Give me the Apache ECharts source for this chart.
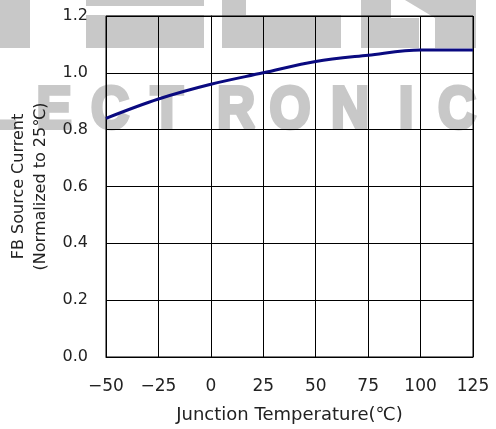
<!DOCTYPE html>
<html>
<head>
<meta charset="utf-8">
<script src="https://cdn.jsdelivr.net/npm/echarts@6/dist/echarts.min.js"></script>
<style>
  html, body { margin: 0; padding: 0; background: #fff; }
  #chart { width: 496px; height: 429px; }
</style>
</head>
<body>
<div id="chart"></div>
<script>
// Junction temperature (°C) and normalized FB source current
const temperatures = [-50, -25, 0, 25, 50, 75, 100, 125];
const currentNorm  = [0.84, 0.908, 0.96, 1.0, 1.04, 1.062, 1.08, 1.08];
const xTicks = [-50, -25, 0, 25, 50, 75, 100, 125];
const yTicks = [0.0, 0.2, 0.4, 0.6, 0.8, 1.0, 1.2];

const FONT = '"DejaVu Sans", "Noto Sans CJK KR", sans-serif';
const WM = '#c8c8c8';

// Background logo lettering behind the plot
const letters = [
  { ch: 'L', cx: 0 }, { ch: 'E', cx: 54 }, { ch: 'C', cx: 110 }, { ch: 'T', cx: 167 },
  { ch: 'R', cx: 236 }, { ch: 'O', cx: 290 }, { ch: 'N', cx: 350 }, { ch: 'I', cx: 406 },
  { ch: 'C', cx: 457 }
];
const wmText = letters.map(l => ({
  type: 'text', x: l.cx, y: 141, scaleX: 0.88, silent: true,
  style: { text: l.ch, fontFamily: '"Liberation Sans"', fontWeight: 'bold', fontSize: 60,
           fill: WM, stroke: WM, lineWidth: 4,
           textAlign: 'center', textVerticalAlign: 'bottom' }
}));
const wmBlocks = [
  [0, 0, 30, 48],
  [86, 0, 118, 6], [86, 15, 118, 33],
  [222, 0, 24, 48], [246, 15, 95, 33],
  [361, 0, 30, 48], [391, 18, 28, 30], [435, 0, 41, 48]
].map(r => ({
  type: 'rect', silent: true,
  shape: { x: r[0], y: r[1], width: r[2], height: r[3] },
  style: { fill: WM }
}));
const wmLeg = {
  type: 'polygon', silent: true,
  shape: { points: [[391, 0], [405, 0], [435, 18], [435, 0]] },
  style: { fill: WM }
};

const chart = echarts.init(document.getElementById('chart'));
chart.setOption({
  animation: false,
  backgroundColor: '#fff',
  graphic: { elements: [].concat(wmBlocks, [wmLeg], wmText).map(e => Object.assign(e, { z: -10 })) },
  grid: {
    left: 106, right: 23, top: 16, bottom: 72,
    containLabel: false, outerBoundsMode: 'none',
    show: true, borderColor: '#000', borderWidth: 1, backgroundColor: 'transparent'
  },
  xAxis: {
    type: 'value', min: -50, max: 125, interval: 25,
    name: 'Junction Temperature(℃)', nameLocation: 'middle', nameGap: 49,
    nameTextStyle: { fontFamily: FONT, fontSize: 18, color: '#222' },
    axisLine: { lineStyle: { color: '#000', width: 1 } },
    axisTick: { show: false },
    axisLabel: { fontFamily: FONT, fontSize: 17, color: '#222', margin: 21,
      formatter: v => (v < 0 ? '\u2212' + Math.abs(v) : String(v)) },
    splitLine: { show: true, lineStyle: { color: '#000', width: 1 } }
  },
  yAxis: {
    type: 'value', min: 0, max: 1.2, interval: 0.2,
    name: 'FB Source Current\n(Normalized to 25℃)', nameLocation: 'middle', nameGap: 54,
    nameTextStyle: { fontFamily: FONT, fontSize: 16, color: '#222', lineHeight: 22 },
    axisLine: { show: true, lineStyle: { color: '#000', width: 1 } },
    axisTick: { show: false },
    axisLabel: { fontFamily: FONT, fontSize: 16, color: '#222', margin: 18,
      formatter: v => v.toFixed(1) },
    splitLine: { show: true, lineStyle: { color: '#000', width: 1 } }
  },
  series: [{
    type: 'line',
    data: temperatures.map((t, i) => [t, currentNorm[i]]),
    smooth: 0.35,
    showSymbol: false,
    lineStyle: { color: '#0a0a80', width: 3 },
    z: 5
  }]
});
</script>
</body>
</html>
